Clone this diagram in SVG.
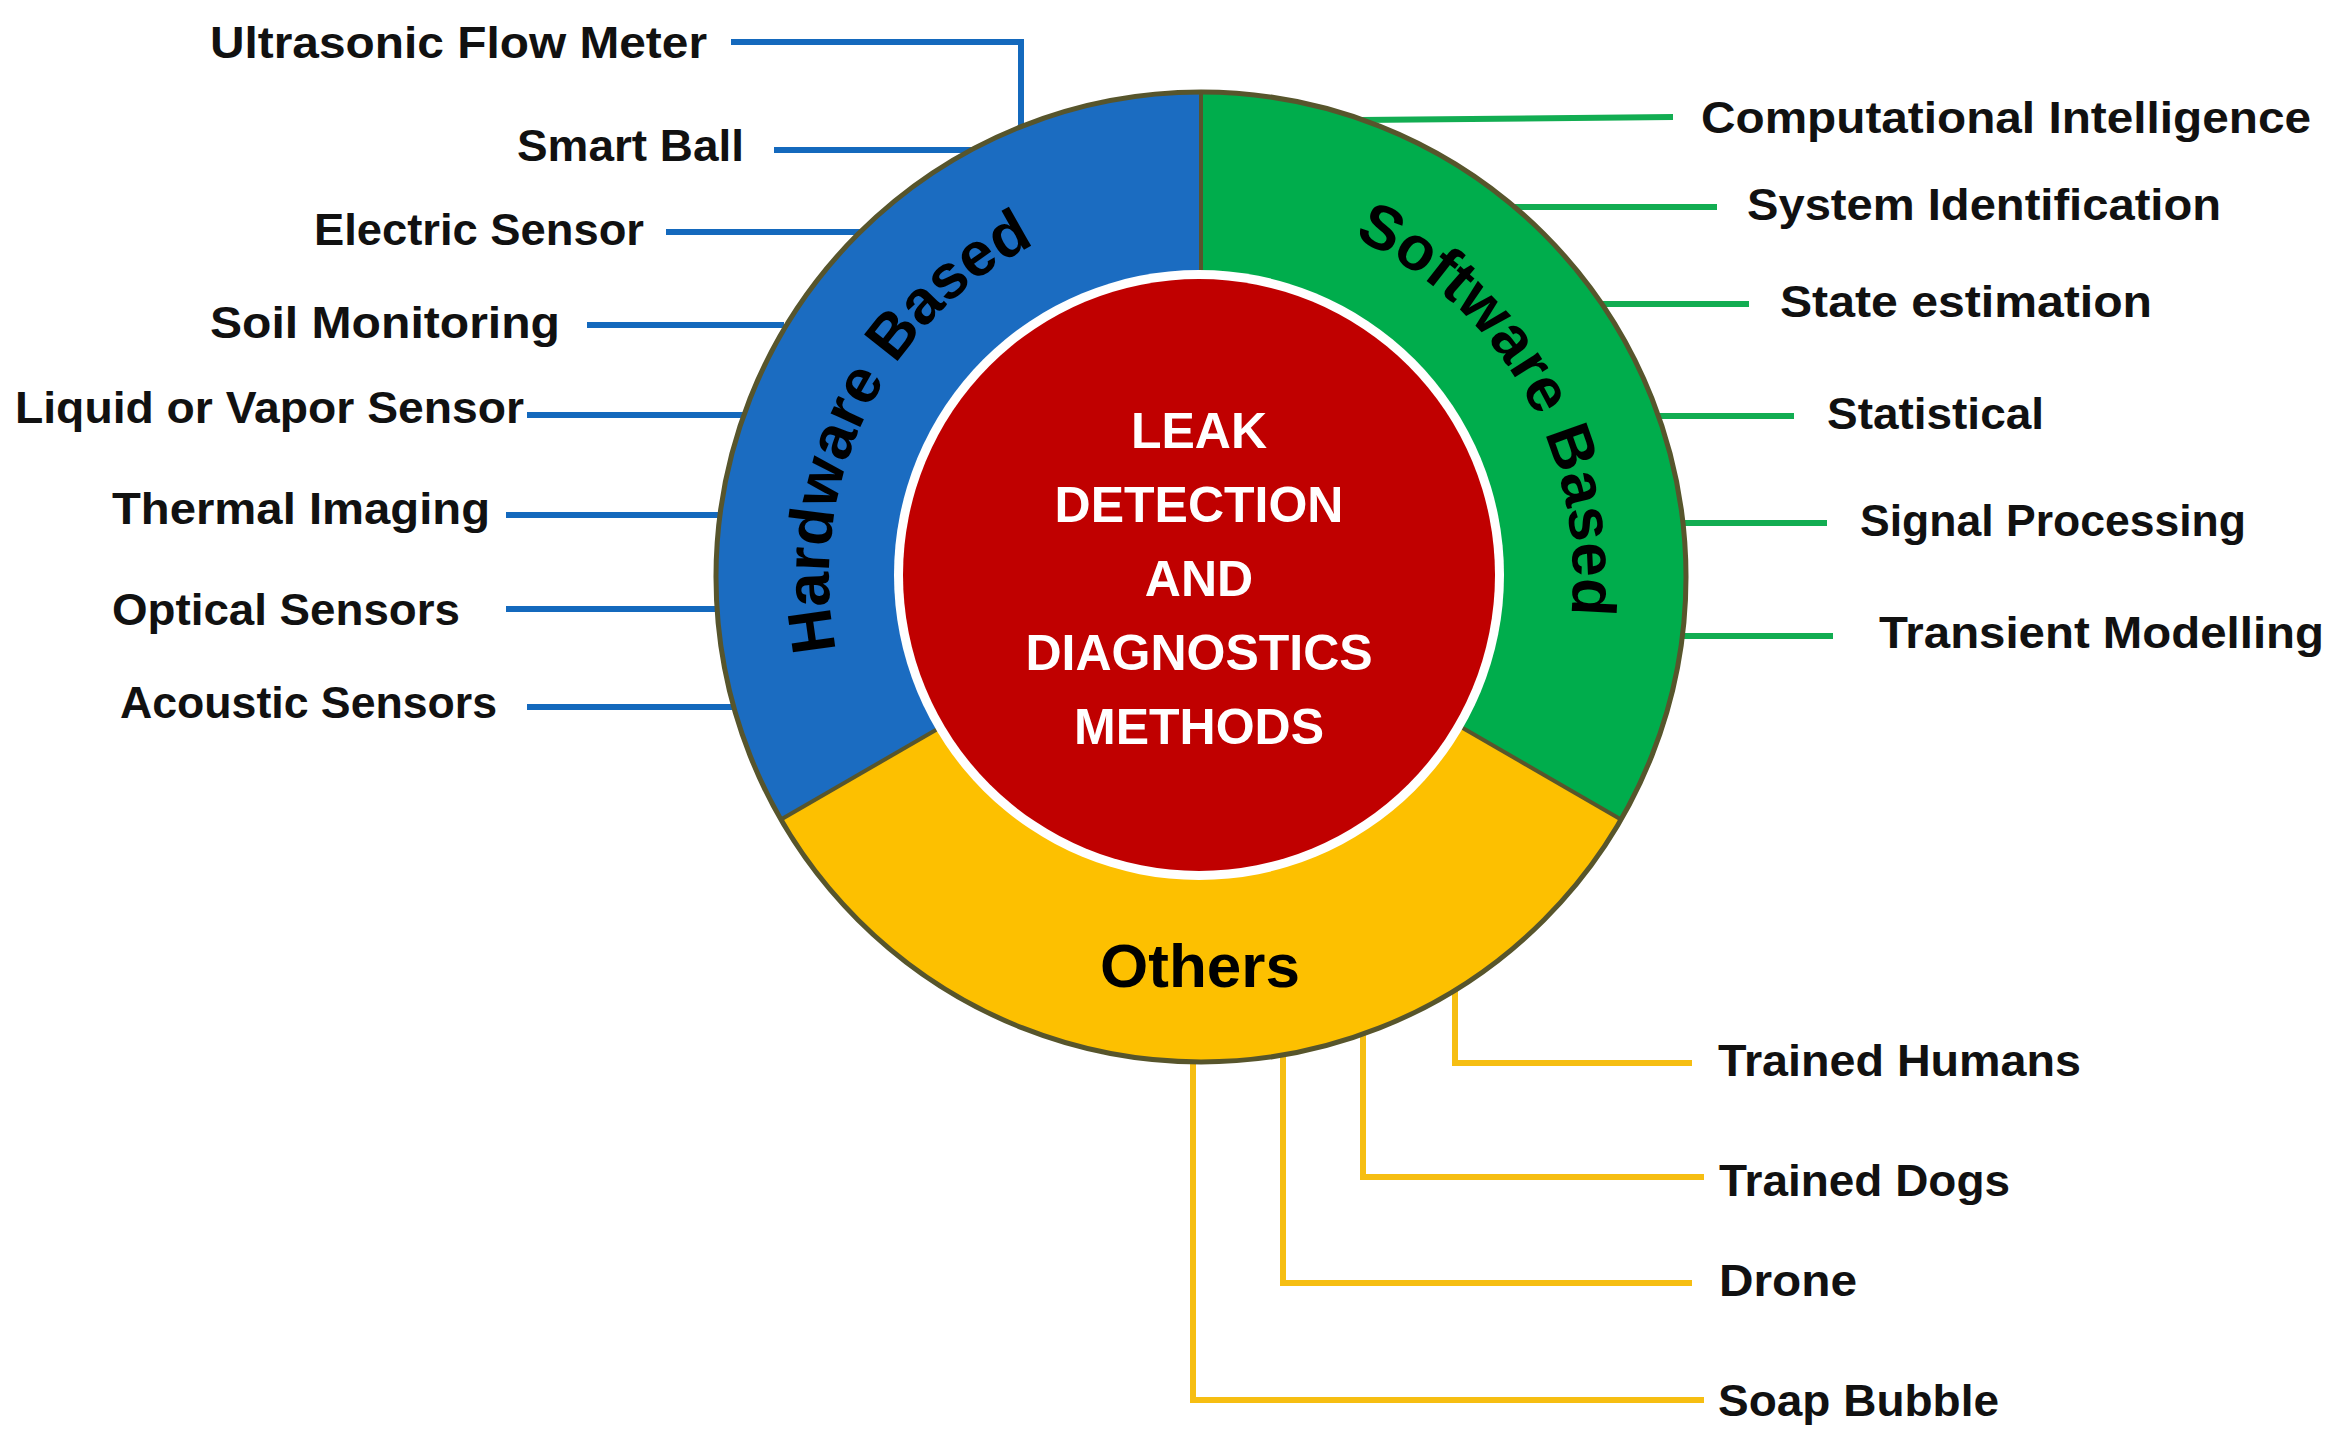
<svg xmlns="http://www.w3.org/2000/svg" width="2336" height="1437" viewBox="0 0 2336 1437">
<style>
.lb{font-family:"Liberation Sans",Arial,sans-serif;font-weight:bold;font-size:44px;fill:#111}
.ct{font-family:"Liberation Sans",Arial,sans-serif;font-weight:bold;font-size:50px;fill:#fff;text-anchor:middle}
.rt{font-family:"Liberation Sans",Arial,sans-serif;font-weight:bold;font-size:62px;fill:#000}
.b{stroke:#1469bd;stroke-width:6;fill:none}
.g{stroke:#12ad52;stroke-width:6;fill:none}
.y{stroke:#f6be12;stroke-width:6;fill:none}
</style>
<defs><path id="arc" d="M1201,949 A372,372 0 1 1 1201,205 A372,372 0 1 1 1201,949"/></defs>
<rect width="2336" height="1437" fill="#fff"/>
<g id="connectors">
<polyline class="b" points="731,42 1021,42 1021,132"/>
<line class="b" x1="774" y1="150" x2="975" y2="150"/>
<line class="b" x1="666" y1="232" x2="866" y2="232"/>
<line class="b" x1="587" y1="325" x2="784" y2="325"/>
<line class="b" x1="527" y1="415" x2="748" y2="415"/>
<line class="b" x1="506" y1="515" x2="722" y2="515"/>
<line class="b" x1="506" y1="609" x2="719" y2="609"/>
<line class="b" x1="527" y1="707" x2="740" y2="707"/>
<line class="g" x1="1360" y1="120" x2="1673" y2="117"/>
<line class="g" x1="1515" y1="207" x2="1717" y2="207"/>
<line class="g" x1="1602" y1="304" x2="1749" y2="304"/>
<line class="g" x1="1655" y1="416" x2="1794" y2="416"/>
<line class="g" x1="1677" y1="523" x2="1827" y2="523"/>
<line class="g" x1="1677" y1="636" x2="1833" y2="636"/>
<polyline class="y" points="1455,973 1455,1063 1692,1063"/>
<polyline class="y" points="1363,1023 1363,1177 1704,1177"/>
<polyline class="y" points="1283,1044 1283,1283 1692,1283"/>
<polyline class="y" points="1193,1053 1193,1400 1704,1400"/>
</g>
<g id="ring">
<path d="M1201,577 L781,819.5 A485,485 0 0 1 1201,92 Z" fill="#1b6cc1"/>
<path d="M1201,577 L1201,92 A485,485 0 0 1 1621,819.5 Z" fill="#00ad4c"/>
<path d="M1201,577 L1621,819.5 A485,485 0 0 1 781,819.5 Z" fill="#fdc000"/>
<circle cx="1201" cy="577" r="485" fill="none" stroke="#57552c" stroke-width="5"/>
<line x1="1201" y1="92" x2="1201" y2="300" stroke="#57552c" stroke-width="4"/>
<line x1="781" y1="819.5" x2="960" y2="716" stroke="#57552c" stroke-width="4"/>
<line x1="1621" y1="819.5" x2="1442" y2="716" stroke="#57552c" stroke-width="4"/>
<text class="rt"><textPath href="#arc" startOffset="753" text-anchor="middle">Hardware Based</textPath></text>
<text class="rt"><textPath href="#arc" startOffset="1558" text-anchor="middle">Software Based</textPath></text>
<text class="rt" x="1200" y="987" text-anchor="middle">Others</text>
</g>
<g id="center">
<circle cx="1199" cy="575" r="305" fill="#fff"/>
<circle cx="1199" cy="575" r="296" fill="#c00000"/>
<text class="ct" x="1199" y="448">LEAK</text>
<text class="ct" x="1199" y="522">DETECTION</text>
<text class="ct" x="1199" y="596">AND</text>
<text class="ct" x="1199" y="670">DIAGNOSTICS</text>
<text class="ct" x="1199" y="744">METHODS</text>
</g>
<g id="labels">
<text class="lb" x="210" y="58" textLength="497" lengthAdjust="spacingAndGlyphs">Ultrasonic Flow Meter</text>
<text class="lb" x="517" y="161" textLength="227" lengthAdjust="spacingAndGlyphs">Smart Ball</text>
<text class="lb" x="314" y="245" textLength="330" lengthAdjust="spacingAndGlyphs">Electric Sensor</text>
<text class="lb" x="210" y="338" textLength="350" lengthAdjust="spacingAndGlyphs">Soil Monitoring</text>
<text class="lb" x="15" y="423" textLength="509" lengthAdjust="spacingAndGlyphs">Liquid or Vapor Sensor</text>
<text class="lb" x="112" y="524" textLength="378" lengthAdjust="spacingAndGlyphs">Thermal Imaging</text>
<text class="lb" x="112" y="625" textLength="348" lengthAdjust="spacingAndGlyphs">Optical Sensors</text>
<text class="lb" x="120" y="718" textLength="377" lengthAdjust="spacingAndGlyphs">Acoustic Sensors</text>
<text class="lb" x="1701" y="133" textLength="610" lengthAdjust="spacingAndGlyphs">Computational Intelligence</text>
<text class="lb" x="1747" y="220" textLength="474" lengthAdjust="spacingAndGlyphs">System Identification</text>
<text class="lb" x="1780" y="317" textLength="372" lengthAdjust="spacingAndGlyphs">State estimation</text>
<text class="lb" x="1827" y="429" textLength="217" lengthAdjust="spacingAndGlyphs">Statistical</text>
<text class="lb" x="1860" y="536" textLength="386" lengthAdjust="spacingAndGlyphs">Signal Processing</text>
<text class="lb" x="1879" y="648" textLength="445" lengthAdjust="spacingAndGlyphs">Transient Modelling</text>
<text class="lb" x="1718" y="1076" textLength="363" lengthAdjust="spacingAndGlyphs">Trained Humans</text>
<text class="lb" x="1719" y="1196" textLength="291" lengthAdjust="spacingAndGlyphs">Trained Dogs</text>
<text class="lb" x="1719" y="1296" textLength="138" lengthAdjust="spacingAndGlyphs">Drone</text>
<text class="lb" x="1718" y="1416" textLength="281" lengthAdjust="spacingAndGlyphs">Soap Bubble</text>
</g>
</svg>
